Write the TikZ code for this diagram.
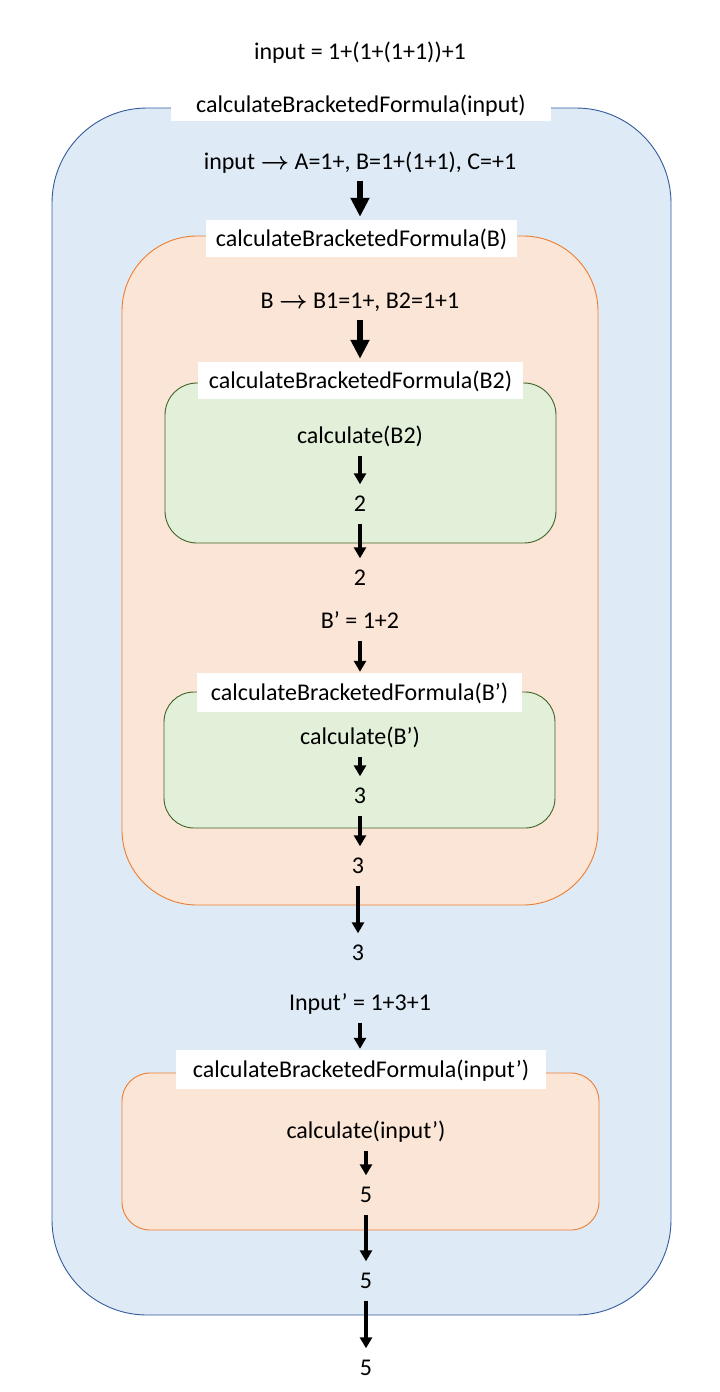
\documentclass[tikz,border=0pt]{standalone}
\usepackage{fontspec}
\setmainfont{Carlito}
\usepackage{tikz}
\usetikzlibrary{arrows.meta,positioning}
\definecolor{blueFill}{RGB}{222,235,247}
\definecolor{blueLine}{RGB}{52,90,158}
\definecolor{orangeFill}{RGB}{251,229,214}
\definecolor{orangeLine}{RGB}{237,125,49}
\definecolor{greenFill}{RGB}{226,240,217}
\definecolor{greenLine}{RGB}{64,100,40}
\tikzset{
    txt/.style     = {inner sep=0pt, text height=20pt, text depth=5pt},
    fnlabel/.style = {txt, fill=white},
    frame/.style   = {line width=0.9pt, inner sep=0pt},
    blueFrame/.style   = {frame, draw=blueLine, fill=blueFill},
    orangeFrame/.style = {frame, draw=orangeLine, fill=orangeFill},
    greenFrame/.style  = {frame, draw=greenLine, fill=greenFill},
    flow/.style    = {-{Triangle[width=12pt,length=11pt]}, line width=4.5pt,
            shorten <=7pt, shorten >=7pt},
    flowBig/.style = {-{Triangle[width=18pt,length=19pt]}, line width=6pt,
            shorten <=6pt, shorten >=3pt},
}
\newcommand{\toArrow}{{\boldmath$\rightarrow$}}
\begin{document}
\begin{tikzpicture}[x=1pt, y=-1pt, font=\fontsize{24}{28}\selectfont]
            \useasboundingbox (0,0) rectangle (720,1392);
            \begin{scope}
                % Frames
                \node[blueFrame, minimum width=619pt, minimum height=1207pt,
                      rounded corners=95pt] (mainBox) at (361.5,711.5) {};
                \node[orangeFrame, minimum width=476pt, minimum height=669pt,
                      rounded corners=75pt] (boxB) at (360,570.5) {};
                \node[greenFrame, minimum width=391pt, minimum height=160pt,
                      rounded corners=32pt] (boxB2) at (360.5,463) {};
                \node[greenFrame, minimum width=391pt, minimum height=136pt,
                      rounded corners=30pt] (boxBp) at (359.5,760) {};
                \node[orangeFrame, minimum width=477pt, minimum height=157pt,
                      rounded corners=28pt] (boxIp) at (360.5,1151.5) {};

                % Labels on the frames
                \node[fnlabel, minimum width=380pt, minimum height=33pt] (labIn) at (361,104.5) {calculateBracketedFormula(input)};
                \node[fnlabel, minimum width=311pt, minimum height=37pt] (labB) at (361.5,238.5) {calculateBracketedFormula(B)};
                \node[fnlabel, minimum width=325pt, minimum height=37pt] (labB2) at (360.5,380.5) {calculateBracketedFormula(B2)};
                \node[fnlabel, minimum width=325pt, minimum height=39pt] (labBp) at (359.5,692.5) {calculateBracketedFormula(B’)};
                \node[fnlabel, minimum width=370pt, minimum height=39pt] (labIp) at (361,1069.5) {calculateBracketedFormula(input’)};

                % Nodes
                \node[txt] (title) at (360,52) {input = 1+(1+(1+1))+1};
                \node[txt] (split) at (360,162) {input \toArrow{} A=1+, B=1+(1+1), C=+1};
                \node[txt] (splitB) at (360,301) {B \toArrow{} B1=1+, B2=1+1};
                \node[txt] (calcB2) at (360,436) {calculate(B2)};
                \node[txt] (resB2) at (360,504) {2};
                \node[txt] (outB2) at (360,578) {2};
                \node[txt] (bPrime) at (360,621) {B’ = 1+2};
                \node[txt] (calcBp) at (360,737) {calculate(B’)};
                \node[txt] (resBp) at (360,796) {3};
                \node[txt] (outBp) at (358,866) {3};
                \node[txt] (outB) at (358,953) {3};
                \node[txt] (inputP) at (360,1003) {Input’ = 1+3+1};
                \node[txt] (calcIp) at (366,1131) {calculate(input’)};
                \node[txt] (resIp) at (366,1195) {5};
                \node[txt] (outIp) at (366,1281) {5};
                \node[txt] (final) at (366,1368) {5};

                % Arrows
                \draw[flowBig] (split.south) -- (split.south |- labB.north);
                \draw[flowBig] (splitB.south) -- (splitB.south |- labB2.north);
                \draw[flow] (calcB2.south) -- (resB2.north);
                \draw[flow] (resB2.south) -- (outB2.north);
                \draw[flow, shorten >=1pt] (bPrime.south) -- (bPrime.south |- labBp.north);
                \draw[flow] (calcBp.south) -- (resBp.north);
                \draw[flow] (resBp.south) -- (resBp.south |- outBp.north);
                \draw[flow] (outBp.south) -- (outB.north);
                \draw[flow, shorten >=1pt] (inputP.south) -- (inputP.south |- labIp.north);
                \draw[flow] (calcIp.south) -- (resIp.north);
                \draw[flow] (resIp.south) -- (outIp.north);
                \draw[flow] (outIp.south) -- (final.north);
            \end{scope}
        \end{tikzpicture}
\end{document}
